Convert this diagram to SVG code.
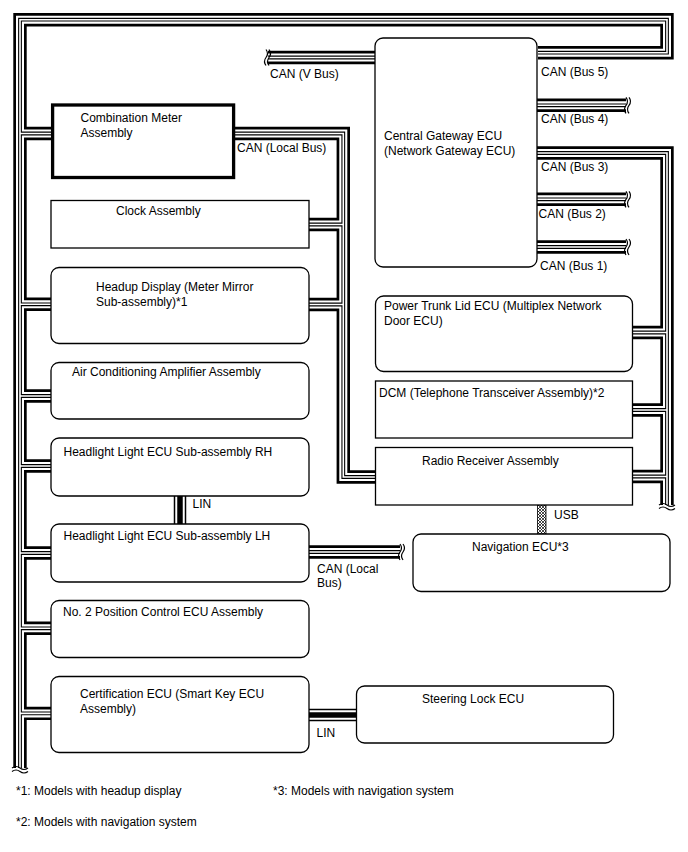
<svg xmlns="http://www.w3.org/2000/svg" xmlns:xlink="http://www.w3.org/1999/xlink" width="688" height="852" viewBox="0 0 688 852">
<style>
text{font-family:"Liberation Sans",Arial,sans-serif;font-size:12px;fill:#000}
.box{fill:#fff;stroke:#000;stroke-width:1.3}
.thick{fill:#fff;stroke:#000;stroke-width:3.3}
.L1{stroke:#000;stroke-width:13.4;fill:none}
.L2{stroke:#fff;stroke-width:8;fill:none}
.L3{stroke:#000;stroke-width:3.8;fill:none}
.L4{stroke:#fff;stroke-width:1.6;fill:none}
.N1{stroke:#000;stroke-width:12.5;fill:none}
.N2{stroke:#fff;stroke-width:9.5;fill:none}
.N3{stroke:#000;stroke-width:5.5;fill:none}
.wave{stroke:#000;stroke-width:1.2;fill:none}
</style>
<defs>
<path id="pMain" d="M20 768 V19.7 H667 V52.7 H538 M20 133.5 H53 M20 304.3 H53 M20 396 H53 M20 466 H53 M20 553 H53 M20 628.3 H53 M20 713.4 H53"/>
<path id="pLocal" d="M233 133.5 H343.3 V477 H377 M343.3 224.5 H308 M343.3 304.5 H308"/>
<path id="pBus3" d="M536 153 H667 V505 M667 332.5 H632 M667 410 H632 M667 476.5 H632"/>
<path id="pV" d="M268 57.5 H376"/>
<path id="pB4" d="M536 105.3 H626"/>
<path id="pB2" d="M536 199.3 H626"/>
<path id="pB1" d="M536 247 H626"/>
<path id="pLH" d="M308 552 H400"/>
<path id="pLin1" d="M180 495 V525"/>
<path id="pLin2" d="M308 715 H357"/>
<pattern id="hatch" width="3" height="3" patternUnits="userSpaceOnUse">
<rect width="3" height="3" fill="#fff"/>
<path d="M0 0 L3 3 M3 0 L0 3" stroke="#000" stroke-width="0.7"/>
</pattern>
</defs>

<g id="connectors" stroke-linejoin="miter">
<g id="main-bus"><use xlink:href="#pMain" class="L1"/><use xlink:href="#pMain" class="L2"/><use xlink:href="#pMain" class="L3"/><use xlink:href="#pMain" class="L4"/></g>
<g id="local-bus"><use xlink:href="#pLocal" class="L1"/><use xlink:href="#pLocal" class="L2"/><use xlink:href="#pLocal" class="L3"/><use xlink:href="#pLocal" class="L4"/></g>
<g id="bus3"><use xlink:href="#pBus3" class="L1"/><use xlink:href="#pBus3" class="L2"/><use xlink:href="#pBus3" class="L3"/><use xlink:href="#pBus3" class="L4"/></g>
<g id="vbus"><use xlink:href="#pV" class="L1"/><use xlink:href="#pV" class="L2"/><use xlink:href="#pV" class="L3"/><use xlink:href="#pV" class="L4"/></g>
<g id="bus4"><use xlink:href="#pB4" class="L1"/><use xlink:href="#pB4" class="L2"/><use xlink:href="#pB4" class="L3"/><use xlink:href="#pB4" class="L4"/></g>
<g id="bus2"><use xlink:href="#pB2" class="L1"/><use xlink:href="#pB2" class="L2"/><use xlink:href="#pB2" class="L3"/><use xlink:href="#pB2" class="L4"/></g>
<g id="bus1"><use xlink:href="#pB1" class="L1"/><use xlink:href="#pB1" class="L2"/><use xlink:href="#pB1" class="L3"/><use xlink:href="#pB1" class="L4"/></g>
<g id="lh-local"><use xlink:href="#pLH" class="L1"/><use xlink:href="#pLH" class="L2"/><use xlink:href="#pLH" class="L3"/><use xlink:href="#pLH" class="L4"/></g>
<g id="lin1"><use xlink:href="#pLin1" class="N1"/><use xlink:href="#pLin1" class="N2"/><use xlink:href="#pLin1" class="N3"/></g>
<g id="lin2"><use xlink:href="#pLin2" class="N1"/><use xlink:href="#pLin2" class="N2"/><use xlink:href="#pLin2" class="N3"/></g>
<rect id="usb" x="537.5" y="505" width="8.5" height="29" fill="url(#hatch)" stroke="#000" stroke-width="0.8"/>
<g id="breaks" class="wave">
<path d="M266 49.5 q3 4 0 8 q-3 4 0 8 M269 49.5 q3 4 0 8 q-3 4 0 8"/>
<path d="M626 97.3 q3 4 0 8 q-3 4 0 8 M629 97.3 q3 4 0 8 q-3 4 0 8"/>
<path d="M626 191.3 q3 4 0 8 q-3 4 0 8 M629 191.3 q3 4 0 8 q-3 4 0 8"/>
<path d="M626 239 q3 4 0 8 q-3 4 0 8 M629 239 q3 4 0 8 q-3 4 0 8"/>
<path d="M400 544 q3 4 0 8 q-3 4 0 8 M403 544 q3 4 0 8 q-3 4 0 8"/>
<path d="M12 768 q4 -3 8 0 q4 3 8 0 M12 771.5 q4 -3 8 0 q4 3 8 0"/>
<path d="M659 505 q4 -3 8 0 q4 3 8 0 M659 508.5 q4 -3 8 0 q4 3 8 0"/>
</g>
</g>

<g id="combination-meter"><rect class="thick" x="52.6" y="105" width="181" height="72.5"/><text x="80.5" y="122">Combination Meter</text><text x="80.5" y="137">Assembly</text></g>
<g id="clock"><rect class="box" x="51" y="200.5" width="258" height="47.5"/><text x="116" y="215">Clock Assembly</text></g>
<g id="headup"><rect class="box" x="51" y="267.5" width="258" height="76" rx="8"/><text x="96" y="291">Headup Display (Meter Mirror</text><text x="96" y="306">Sub-assembly)*1</text></g>
<g id="ac-amp"><rect class="box" x="51" y="362.5" width="258" height="56.5" rx="8"/><text x="72" y="376">Air Conditioning Amplifier Assembly</text></g>
<g id="headlight-rh"><rect class="box" x="51" y="438" width="258" height="58" rx="8"/><text x="63.5" y="456">Headlight Light ECU Sub-assembly RH</text></g>
<g id="headlight-lh"><rect class="box" x="51" y="524" width="258" height="58" rx="8"/><text x="63.5" y="540">Headlight Light ECU Sub-assembly LH</text></g>
<g id="position-control"><rect class="box" x="51" y="600.5" width="258" height="57" rx="8"/><text x="63" y="616">No. 2 Position Control ECU Assembly</text></g>
<g id="certification"><rect class="box" x="51" y="676.5" width="258" height="76" rx="8"/><text x="80" y="698">Certification ECU (Smart Key ECU</text><text x="80" y="713">Assembly)</text></g>
<g id="steering-lock"><rect class="box" x="356.5" y="686" width="257" height="57" rx="8"/><text x="422" y="703">Steering Lock ECU</text></g>
<g id="central-gateway"><rect class="box" x="375" y="38" width="162" height="229" rx="8"/><text x="384" y="140">Central Gateway ECU</text><text x="384" y="155">(Network Gateway ECU)</text></g>
<g id="power-trunk"><rect class="box" x="375.5" y="296" width="257" height="75.5" rx="8"/><text x="384" y="310">Power Trunk Lid ECU (Multiplex Network</text><text x="384" y="325">Door ECU)</text></g>
<g id="dcm"><rect class="box" x="375.5" y="381" width="257" height="57"/><text x="379" y="397">DCM (Telephone Transceiver Assembly)*2</text></g>
<g id="radio"><rect class="box" x="375.5" y="447.5" width="257" height="57.5"/><text x="422" y="465">Radio Receiver Assembly</text></g>
<g id="navigation"><rect class="box" x="413" y="534" width="257" height="57.5" rx="8"/><text x="472" y="551">Navigation ECU*3</text></g>

<g id="labels">
<text x="270" y="78">CAN (V Bus)</text>
<text x="541" y="76">CAN (Bus 5)</text>
<text x="541" y="123">CAN (Bus 4)</text>
<text x="541" y="171">CAN (Bus 3)</text>
<text x="538.5" y="218">CAN (Bus 2)</text>
<text x="540" y="270">CAN (Bus 1)</text>
<text x="237" y="152">CAN (Local Bus)</text>
<text x="192.5" y="508">LIN</text>
<text x="554" y="519">USB</text>
<text x="317" y="573">CAN (Local</text>
<text x="317" y="587">Bus)</text>
<text x="316.5" y="737">LIN</text>
<text x="16" y="795">*1: Models with headup display</text>
<text x="273" y="795">*3: Models with navigation system</text>
<text x="16" y="826">*2: Models with navigation system</text>
</g>
</svg>
